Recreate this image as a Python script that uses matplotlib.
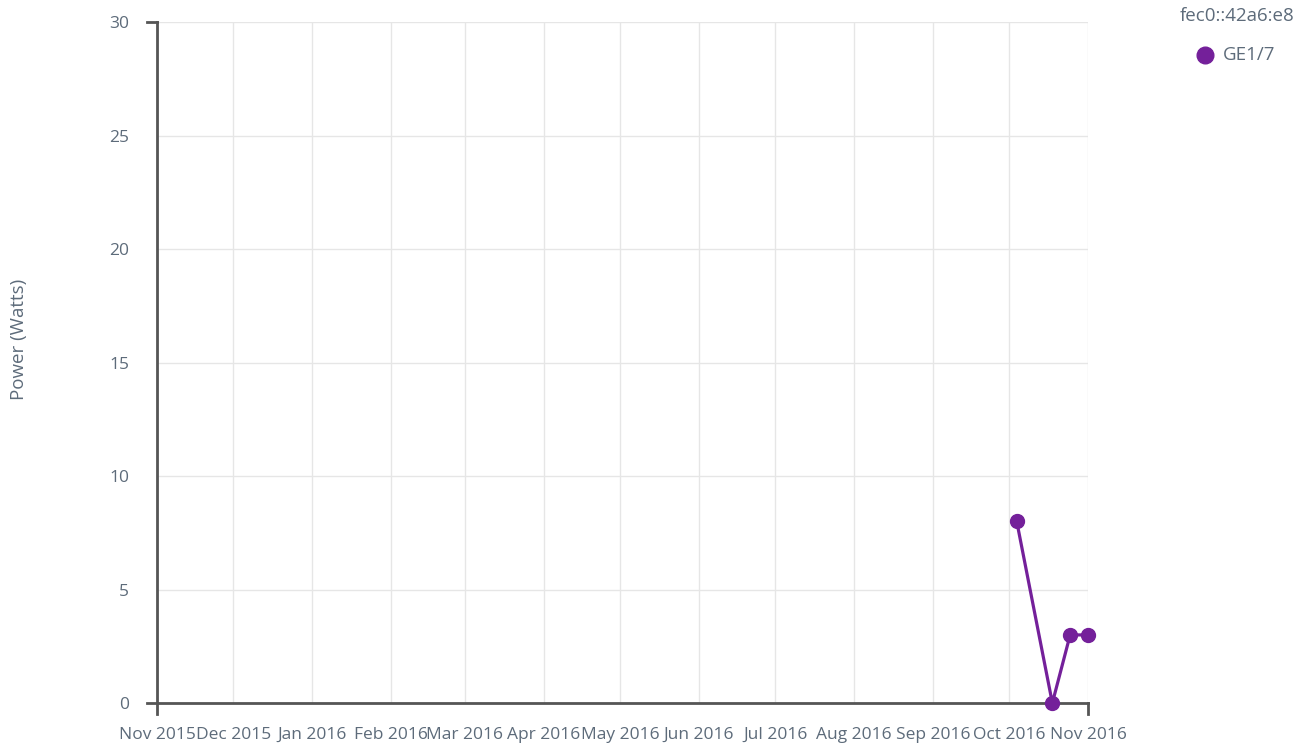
import numpy as np
import pandas as pd
import matplotlib
matplotlib.use("Agg")
import matplotlib.pyplot as plt
import matplotlib.dates as mdates

# ---- data ----
dates = pd.to_datetime(["2016-10-04", "2016-10-18", "2016-10-25", "2016-11-01"])
power = [8, 0, 3, 3]
series_name = "GE1/7"
legend_title = "fec0::42a6:e8"
month_ticks = pd.date_range("2015-11-01", "2016-11-01", freq="MS")
y_ticks = [0, 5, 10, 15, 20, 25, 30]

PURPLE = "#74209a"
TXT = "#5d6b7a"
GRID = "#e6e6e6"
AXIS = "#555555"

plt.rcParams["font.family"] = ["Open Sans", "DejaVu Sans"]

fig = plt.figure(figsize=(13.13, 7.46), dpi=100)
ax = fig.add_axes([0.1196, 0.0576, 0.709, 0.9129])

ax.plot(dates, power, color=PURPLE, lw=2.3, marker="o", ms=10, zorder=5, clip_on=False)

ax.set_xlim(month_ticks[0], month_ticks[-1])
ax.set_ylim(0, 30)
ax.set_xticks(month_ticks)
ax.set_xticklabels([d.strftime("%b %Y") for d in month_ticks])
ax.set_yticks(y_ticks)
ax.grid(True, color=GRID, lw=1)
ax.set_axisbelow(True)
ax.tick_params(axis="both", length=0, labelsize=12.5, colors=TXT)
ax.tick_params(axis="x", pad=26)
ax.tick_params(axis="y", pad=20)
for lbl in ax.get_xticklabels():
    lbl.set_verticalalignment("baseline")

for s in ["top", "right"]:
    ax.spines[s].set_visible(False)
for s in ["left", "bottom"]:
    ax.spines[s].set_color(AXIS)
    ax.spines[s].set_linewidth(2)

# outer end ticks (d3 style)
tr = ax.transAxes
ax.plot([-0.011, 0], [1, 1], color=AXIS, lw=2, transform=tr, clip_on=False)
ax.plot([0, 0], [0, -0.016], color=AXIS, lw=2, transform=tr, clip_on=False)
ax.plot([-0.011, 0], [0, 0], color=AXIS, lw=2, transform=tr, clip_on=False)
ax.plot([1, 1], [0, -0.016], color=AXIS, lw=2, transform=tr, clip_on=False)

fig.text(0.0145, 0.545, "Power (Watts)", rotation=90, va="center", ha="center",
         color=TXT, fontsize=13.5)

# legend
fig.text(0.986, 0.978, legend_title, ha="right", va="center", color=TXT, fontsize=13.5)
fig.lines.append(plt.Line2D([0.918], [0.926], marker="o", ms=12, color=PURPLE,
                            transform=fig.transFigure))
fig.text(0.931, 0.926, series_name, ha="left", va="center", color=TXT, fontsize=13.5)

fig.savefig("out.png", dpi=100)
